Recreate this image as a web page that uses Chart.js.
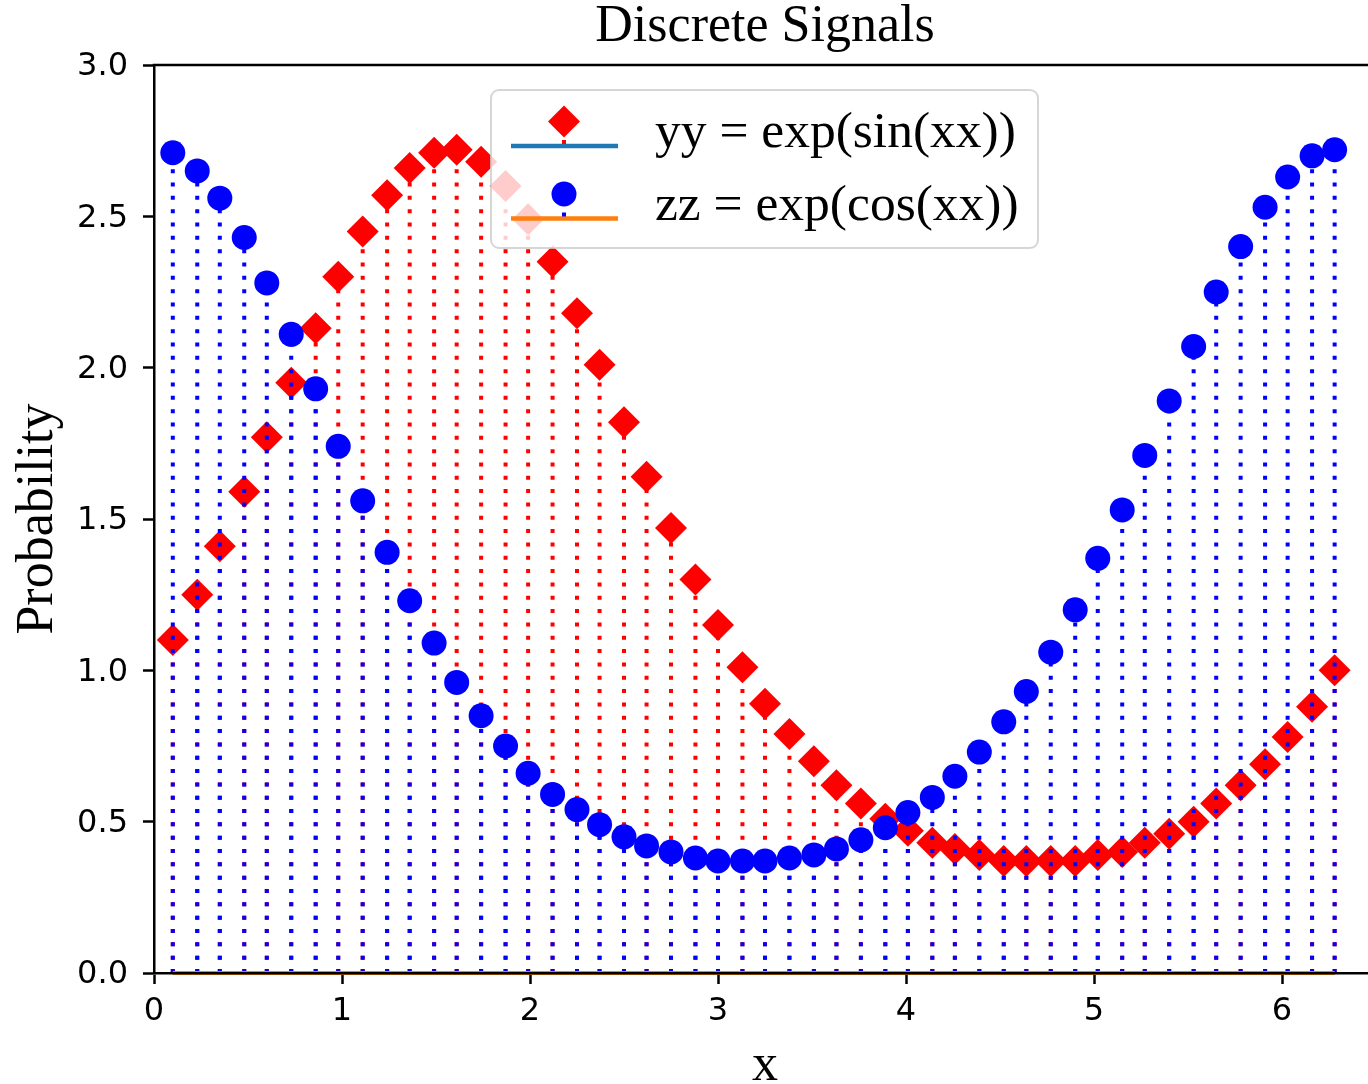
<!DOCTYPE html>
<html>
<head>
<meta charset="utf-8">
<script src="https://cdn.jsdelivr.net/npm/chart.js@4/dist/chart.umd.min.js"></script>
<style>
  html, body { margin: 0; padding: 0; background: #fff; overflow: hidden; }
  #wrap { width: 1392px; height: 1084px; }
</style>
</head>
<body>
<div id="wrap"><canvas id="chart" width="1392" height="1084"></canvas></div>
<script>
// sample positions and the two signals
const xs = [0.10,0.23,0.35,0.48,0.60,0.73,0.86,0.98,1.11,1.24,1.36,1.49,1.61,1.74,1.87,1.99,2.12,2.25,2.37,2.50,
            2.62,2.75,2.88,3.00,3.13,3.25,3.38,3.51,3.63,3.76,3.89,4.01,4.14,4.26,4.39,4.52,4.64,4.77,4.90,5.02,
            5.15,5.27,5.40,5.53,5.65,5.78,5.91,6.03,6.16,6.28];
const yySin = [1.10,1.25,1.41,1.59,1.77,1.95,2.13,2.30,2.45,2.57,2.66,2.71,2.72,2.68,2.60,2.49,2.35,2.18,2.01,1.82,
               1.64,1.47,1.30,1.15,1.01,0.89,0.79,0.70,0.62,0.56,0.51,0.47,0.43,0.41,0.39,0.37,0.37,0.37,0.37,0.39,
               0.40,0.43,0.46,0.50,0.56,0.62,0.69,0.78,0.88,1.00];
const zzCos = [2.71,2.65,2.56,2.43,2.28,2.11,1.93,1.74,1.56,1.39,1.23,1.09,0.96,0.85,0.75,0.66,0.59,0.54,0.49,0.45,
               0.42,0.40,0.38,0.37,0.37,0.37,0.38,0.39,0.41,0.44,0.48,0.53,0.58,0.65,0.73,0.83,0.93,1.06,1.20,1.37,
               1.53,1.71,1.89,2.07,2.25,2.40,2.53,2.63,2.70,2.72];
const seriesLabels = ['yy = exp(sin(xx))', 'zz = exp(cos(xx))'];
const yTicks = [0, 0.5, 1.0, 1.5, 2.0, 2.5, 3.0];

const serif = '"Liberation Serif", "Times New Roman", serif';
const sans = '"DejaVu Sans", sans-serif';

const toPoints = (vals) => vals.map((v, i) => ({ x: xs[i], y: v }));

// stems under each dataset's markers, baseline after them
const stemPlugin = {
  id: 'stems',
  beforeDatasetDraw(chart, args) {
    const ds = chart.data.datasets[args.index];
    const base = chart.scales.y.getPixelForValue(0);
    const ctx = chart.ctx;
    ctx.save();
    ctx.strokeStyle = ds.stemColor;
    ctx.lineWidth = 4;
    ctx.lineCap = 'butt';
    ctx.setLineDash([4, 9.33]);
    args.meta.data.forEach(pt => {
      ctx.beginPath();
      ctx.moveTo(pt.x, base);
      ctx.lineTo(pt.x, pt.y);
      ctx.stroke();
    });
    ctx.restore();
  },
  afterDatasetDraw(chart, args) {
    const ds = chart.data.datasets[args.index];
    const pts = args.meta.data;
    const base = chart.scales.y.getPixelForValue(0);
    const ctx = chart.ctx;
    ctx.save();
    ctx.strokeStyle = ds.baseColor;
    ctx.lineWidth = 4;
    ctx.beginPath();
    ctx.moveTo(pts[0].x, base);
    ctx.lineTo(pts[pts.length - 1].x, base);
    ctx.stroke();
    ctx.restore();
  }
};

// top spine
const framePlugin = {
  id: 'frame',
  afterDraw(chart) {
    const { ctx, chartArea: ca } = chart;
    ctx.save();
    ctx.strokeStyle = '#000';
    ctx.lineWidth = 2.5;
    ctx.beginPath();
    ctx.moveTo(ca.left - 1.25, ca.top);
    ctx.lineTo(ca.right, ca.top);
    ctx.stroke();
    ctx.restore();
  }
};

// matplotlib-like stem legend
const legendPlugin = {
  id: 'stemLegend',
  afterDraw(chart) {
    const { ctx, chartArea: ca } = chart;
    const bx = ca.left + 337, by = ca.top + 25, bw = 547, bh = 158;
    ctx.save();
    ctx.fillStyle = 'rgba(255,255,255,0.8)';
    ctx.strokeStyle = 'rgba(204,204,204,0.8)';
    ctx.lineWidth = 2;
    ctx.beginPath();
    ctx.roundRect(bx, by, bw, bh, 8);
    ctx.fill();
    ctx.stroke();

    chart.data.datasets.forEach((ds, i) => {
      const cy = by + 44 + i * 72.5;
      const hx = bx + 73;
      const my = cy - 12.5;
      // baseline of the handle
      ctx.strokeStyle = ds.baseColor;
      ctx.lineWidth = 4.5;
      ctx.setLineDash([]);
      ctx.beginPath();
      ctx.moveTo(bx + 20, cy + 12);
      ctx.lineTo(bx + 127, cy + 12);
      ctx.stroke();
      // short stem
      ctx.strokeStyle = ds.stemColor;
      ctx.lineWidth = 4;
      ctx.setLineDash([4, 9.33]);
      ctx.beginPath();
      ctx.moveTo(hx, cy + 10);
      ctx.lineTo(hx, my);
      ctx.stroke();
      ctx.setLineDash([]);
      // marker
      ctx.fillStyle = ds.backgroundColor;
      ctx.beginPath();
      if (ds.pointStyle === 'rectRot') {
        const r = ds.pointRadius;
        ctx.moveTo(hx - r, my);
        ctx.lineTo(hx, my - r);
        ctx.lineTo(hx + r, my);
        ctx.lineTo(hx, my + r);
        ctx.closePath();
      } else {
        ctx.arc(hx, my, ds.pointRadius, 0, Math.PI * 2);
      }
      ctx.fill();
      // text
      ctx.fillStyle = '#000';
      ctx.font = '51.5px ' + serif;
      ctx.textBaseline = 'alphabetic';
      ctx.textAlign = 'left';
      ctx.fillText(ds.label, bx + 164, cy + 13);
    });
    ctx.restore();
  }
};

new Chart(document.getElementById('chart'), {
  type: 'scatter',
  data: {
    datasets: [
      {
        label: seriesLabels[0],
        data: toPoints(yySin),
        pointStyle: 'rectRot',
        pointRadius: 16,
        pointBorderWidth: 0,
        backgroundColor: '#ff0000',
        borderColor: '#ff0000',
        stemColor: '#ff0000',
        baseColor: '#1f77b4',
        order: 2
      },
      {
        label: seriesLabels[1],
        data: toPoints(zzCos),
        pointStyle: 'circle',
        pointRadius: 12.5,
        pointBorderWidth: 0,
        backgroundColor: '#0000ff',
        borderColor: '#0000ff',
        stemColor: '#0000ff',
        baseColor: '#ff7f0e',
        order: 1
      }
    ]
  },
  options: {
    responsive: false,
    animation: false,
    devicePixelRatio: 1,
    layout: { padding: { left: 0, right: 2, top: 0, bottom: 0 } },
    plugins: {
      legend: { display: false },
      tooltip: { enabled: false },
      title: {
        display: true,
        text: 'Discrete Signals',
        fullSize: false,
        color: '#000',
        font: { family: serif, size: 52, weight: 'normal', lineHeight: 1 },
        padding: { top: 1, bottom: 12 }
      }
    },
    scales: {
      x: {
        type: 'linear',
        position: 'bottom',
        min: 0,
        max: 6.5,
        afterFit: (scale) => { scale.height = 111; },
        ticks: {
          stepSize: 1,
          includeBounds: false,
          color: '#000',
          padding: 8,
          font: { family: sans, size: 32, lineHeight: 1.2 }
        },
        grid: { drawOnChartArea: false, drawTicks: true, tickLength: 11, tickWidth: 2.5, tickColor: '#000' },
        border: { display: true, width: 2.5, color: '#000', z: 1 },
        title: {
          display: true,
          text: 'x',
          color: '#000',
          font: { family: serif, size: 52, lineHeight: 0.68 },
          padding: { top: 0, bottom: 0 }
        }
      },
      y: {
        type: 'linear',
        min: 0,
        max: 3,
        afterFit: (scale) => { scale.width = 154; },
        afterBuildTicks: (scale) => { scale.ticks = yTicks.map(v => ({ value: v })); },
        ticks: {
          color: '#000',
          padding: 15,
          labelOffset: 2,
          font: { family: sans, size: 32, lineHeight: 1.2 },
          callback: (v) => Number(v).toFixed(1)
        },
        grid: { drawOnChartArea: false, drawTicks: true, tickLength: 11, tickWidth: 2.5, tickColor: '#000' },
        border: { display: true, width: 2.5, color: '#000', z: 1 },
        title: {
          display: true,
          text: 'Probability',
          color: '#000',
          font: { family: serif, size: 52, lineHeight: 1 },
          padding: { top: 12, bottom: 0 }
        }
      }
    }
  },
  plugins: [stemPlugin, framePlugin, legendPlugin]
});
</script>
</body>
</html>
